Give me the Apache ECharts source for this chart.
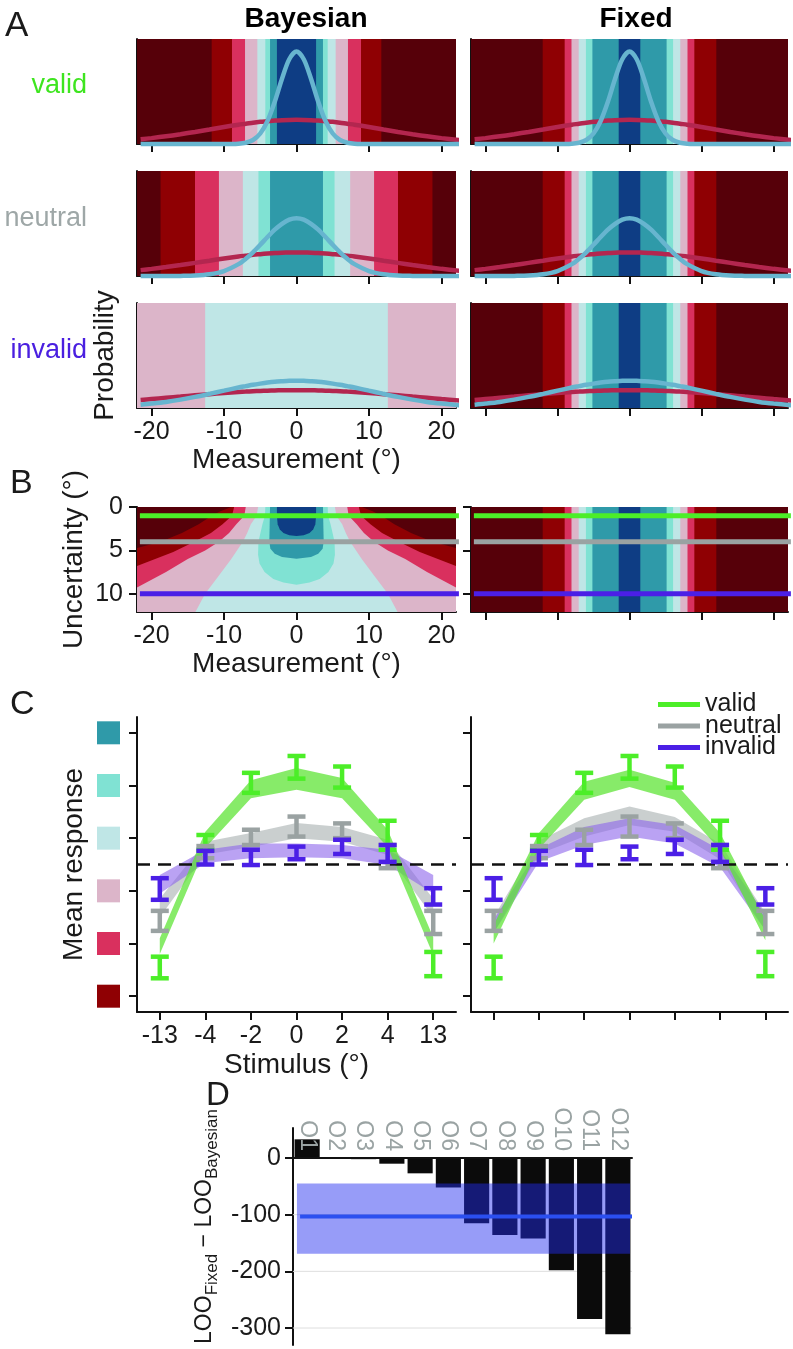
<!DOCTYPE html>
<html><head><meta charset="utf-8">
<script src="https://cdn.jsdelivr.net/npm/echarts@6/dist/echarts.min.js"></script>
<style>html,body{margin:0;padding:0;background:#fff}#c{width:793px;height:1349px}</style>
</head><body><div id="c"></div>
<script>
// ================= DATA =================
// Panel A: measurement grid and probability curves (relative heights)
const measX = [-21.5,-20,-18,-16,-14,-12,-10,-8,-7,-6,-5,-4,-3,-2,-1,0,1,2,3,4,5,6,7,8,10,12,14,16,18,20,22.5];
const validBlue   = [0,0,0,0,0,0,0,0.003,0.012,0.038,0.10,0.219,0.402,0.621,0.807,0.88,0.807,0.621,0.402,0.219,0.10,0.038,0.012,0.003,0,0,0,0,0,0,0];
const validRed    = [0.045,0.056,0.073,0.093,0.115,0.138,0.162,0.184,0.193,0.203,0.211,0.217,0.223,0.227,0.229,0.23,0.229,0.227,0.223,0.217,0.211,0.203,0.193,0.184,0.162,0.138,0.115,0.093,0.073,0.056,0.038];
const neutralBlue = [0,0,0,0.001,0.004,0.016,0.047,0.113,0.164,0.226,0.297,0.371,0.441,0.497,0.537,0.55,0.537,0.497,0.441,0.371,0.297,0.226,0.164,0.113,0.047,0.016,0.004,0.001,0,0,0];
const neutralRed  = [0.056,0.068,0.085,0.104,0.125,0.146,0.167,0.186,0.194,0.202,0.208,0.214,0.219,0.222,0.224,0.225,0.224,0.222,0.219,0.214,0.208,0.202,0.194,0.186,0.167,0.146,0.125,0.104,0.085,0.068,0.049];
const invalidBlue = [0.032,0.042,0.058,0.080,0.106,0.135,0.165,0.195,0.208,0.221,0.232,0.242,0.250,0.255,0.259,0.26,0.259,0.255,0.250,0.242,0.232,0.221,0.208,0.195,0.165,0.135,0.106,0.080,0.058,0.042,0.026];
const invalidRed  = [0.076,0.085,0.097,0.109,0.121,0.132,0.143,0.152,0.156,0.160,0.163,0.165,0.167,0.169,0.170,0.17,0.170,0.169,0.167,0.165,0.163,0.160,0.156,0.152,0.143,0.132,0.121,0.109,0.097,0.085,0.071];
const measTicks = [-20,-10,0,10,20];

// Decision-region half-widths (red, pink-red, light pink, light cyan, mint, teal, navy); outside = maroon
const bayesValidBounds   = [11.7, 8.9, 7.1, 5.4, 4.3, 3.65, 2.7];
const bayesNeutralBounds = [18.75, 14.0, 10.7, 7.4, 5.25, 3.65, 0];
const bayesInvalidBounds = [30, 30, 30, 12.6, 0, 0, 0];
const fixedBounds        = [12.05, 9.0, 8.05, 7.05, 6.05, 5.15, 1.5];

// Panel B: Bayesian region boundaries [|measurement|, uncertainty]
const maroonB = [[40,-1],[40,13]];
const redB  = [[9.0,0],[10.5,0.5],[11.7,1],[13.5,2],[15.8,3],[18.75,4],[22.3,4.8],[26,5.5],[40,12.5]];
const prB   = [[8.6,0],[8.9,1],[10.2,2],[11.8,3],[14.1,4],[17,5.2],[22.3,6.9],[26,8],[40,12.5]];
const lpB   = [[7.0,0],[7.2,1],[8.3,2],[9.3,3],[10.7,4],[12.6,5],[15,6],[18,7.5],[22.3,9.4],[25,10.5],[40,12.5]];
const lcB   = [[5.3,0],[5.5,1],[6.3,2],[6.8,3],[7.4,4],[9.0,6],[10.8,8],[12.6,10],[14.2,12.5]];
const mintB = [[4.3,0],[4.35,1],[4.7,2],[5.25,4],[5.3,5.5],[5.1,6.5],[4.4,7.5],[3.2,8.3],[1.8,8.7],[0,8.95]];
const tealB = [[3.65,0],[3.7,2],[3.75,4],[3.6,4.8],[3.0,5.4],[2.0,5.75],[0,5.95]];
const navyB = [[2.7,0],[2.7,1],[2.6,2],[2.3,2.6],[1.8,3.0],[1.0,3.25],[0,3.35]];
const uncTicks = [0,5,10];
const cueLevels = [1, 4, 10];   // valid, neutral, invalid uncertainty lines
const cueLineX = [-21.6, 22.4];

// Panel C
const stimCats = ['-13','-4','-2','0','2','4','13'];
const respTicks = [1,2,3,4,5,6];
const validLo   = [1.34,3.78,4.86,5.13,4.96,3.78,1.38];
const validHi   = [1.75,4.06,5.24,5.56,5.36,4.33,1.84];
const neutralLo = [2.24,3.62,3.87,4.03,4.00,3.43,2.18];
const neutralHi = [2.62,3.85,4.16,4.41,4.28,3.87,2.62];
const invalidLo = [2.83,3.50,3.49,3.60,3.70,3.55,2.74];
const invalidHi = [3.24,3.76,3.78,3.84,3.97,3.87,3.05];
const bayValidLo   = [1.80,3.82,4.76,4.92,4.76,3.83,1.78];
const bayValidHi   = [2.10,4.12,5.10,5.33,5.14,4.16,2.12];
const bayNeutralLo = [2.50,3.69,3.83,4.00,3.93,3.68,2.50];
const bayNeutralHi = [2.85,3.93,4.10,4.29,4.21,3.97,2.85];
const bayInvalidLo = [2.95,3.53,3.62,3.64,3.62,3.49,2.95];
const bayInvalidHi = [3.30,3.78,3.90,3.90,3.87,3.78,3.30];
const fixValidLo   = [2.00,3.80,4.73,4.97,4.73,3.78,2.06];
const fixValidHi   = [2.35,4.10,5.07,5.30,5.05,4.10,2.45];
const fixNeutralLo = [2.20,3.70,4.03,4.25,4.12,3.60,2.25];
const fixNeutralHi = [2.50,3.95,4.38,4.60,4.40,3.90,2.58];
const fixInvalidLo = [2.20,3.55,3.87,4.03,3.90,3.45,2.25];
const fixInvalidHi = [2.45,3.80,4.21,4.38,4.25,3.78,2.55];
const chanceLevel = 3.5;

// Panel D
const subjects = ['O1','O2','O3','O4','O5','O6','O7','O8','O9','O10','O11','O12'];
const looDiff  = [33,-1,-2,-10,-27,-52,-115,-136,-142,-198,-284,-311];
const looMean = -103, looBandLo = -169, looBandHi = -45;
const looTicks = [-300,-200,-100,0];

// ================= STYLE =================
const FONT = '"Liberation Sans", Arial, Helvetica, sans-serif';
const AXC = '#111';
const TXT = '#1a1a1a';
const CLS = ['#560009','#8f0003','#d9305e','#dcb5c9','#bfe6e6','#80e2d3','#2f9aa9','#0e3d84'];
const RESP_COLORS = ['#8f0003','#d9305e','#dcb5c9','#bfe6e6','#80e2d3','#2f9aa9'];
const C_VALID = '#4cee28', C_NEUTRAL = '#9aa2a2', C_INVALID = '#4b1fe6';
const BLUE_CURVE = '#67b5cf', RED_CURVE = '#b3264f';

const grids = [
  [137,39,319,105],[471,39,317,105],
  [137,171,319,105],[471,171,317,105],
  [137,303,319,105],[471,303,317,105],
  [137,507,319,105],[471,507,317,105],
  [137,717,319,295],[471,717,317,295],
  [293,1128,339,217]
].map(g => ({left:g[0], top:g[1], width:g[2], height:g[3]}));

const axLine = {show:true, onZero:false, lineStyle:{color:AXC, width:2}};
const tickSt = {color:AXC, width:2};
const nameSt = {fontSize:28, color:TXT, fontFamily:FONT};

function measXAxis(gi, labels, name) {
  return {type:'value', gridIndex:gi, min:-22, max:22, axisLine:axLine,
    axisTick:{show:true, customValues:measTicks, length:8, lineStyle:tickSt},
    axisLabel:{show:labels, customValues:measTicks, fontSize:25, color:TXT, margin:12, fontFamily:FONT},
    splitLine:{show:false}, name:name||'', nameLocation:'middle', nameGap:38, nameTextStyle:nameSt};
}
function probYAxis(gi, name) {
  return {type:'value', gridIndex:gi, min:0, max:1, axisLine:axLine, axisTick:{show:false},
    axisLabel:{show:false}, splitLine:{show:false}, name:name||'', nameLocation:'middle',
    nameRotate:90, nameGap:18, nameTextStyle:nameSt};
}
function uncYAxis(gi, labels, name) {
  return {type:'value', gridIndex:gi, min:0, max:12.1, inverse:true, axisLine:axLine,
    axisTick:{show:true, customValues:uncTicks, length:8, lineStyle:tickSt},
    axisLabel:{show:labels, customValues:uncTicks, fontSize:25, color:TXT, margin:14, fontFamily:FONT},
    splitLine:{show:false}, name:name||'', nameLocation:'middle', nameRotate:90, nameGap:49, nameTextStyle:nameSt};
}
function stimXAxis(gi, labels, name) {
  return {type:'category', gridIndex:gi, data:stimCats, boundaryGap:true, axisLine:axLine,
    axisTick:{show:true, alignWithLabel:true, interval:0, length:8, lineStyle:tickSt},
    axisLabel:{show:labels, interval:0, fontSize:25, color:TXT, margin:12, fontFamily:FONT},
    splitLine:{show:false}, name:name||'', nameLocation:'middle', nameGap:39, nameTextStyle:nameSt};
}
const richSquares = {};
RESP_COLORS.forEach((c,i) => { richSquares['c'+(i+1)] = {width:23, height:23, backgroundColor:c}; });
function respYAxis(gi, labels, name) {
  return {type:'value', gridIndex:gi, min:0.7, max:6.3, axisLine:axLine,
    axisTick:{show:true, customValues:respTicks, length:8, lineStyle:tickSt},
    axisLabel:{show:labels, customValues:respTicks, margin:17, formatter:v => '{c'+v+'|}', rich:richSquares},
    splitLine:{show:false}, name:name||'', nameLocation:'middle', nameRotate:90, nameGap:49, nameTextStyle:nameSt};
}

const xAxes = [
  measXAxis(0,false), measXAxis(1,false), measXAxis(2,false), measXAxis(3,false),
  measXAxis(4,true,'Measurement (°)'), measXAxis(5,false),
  measXAxis(6,true,'Measurement (°)'), measXAxis(7,false),
  stimXAxis(8,true,'Stimulus (°)'), stimXAxis(9,false),
  {type:'category', gridIndex:10, data:subjects, z:10, position:'top', offset:-30,
    axisLine:{show:true, onZero:false, lineStyle:{color:AXC, width:2}}, axisTick:{show:false},
    axisLabel:{interval:0, rotate:90, color:'#9aa3a3', fontSize:23, margin:7, fontFamily:FONT},
    splitLine:{show:false}},
  {type:'value', gridIndex:10, min:0, max:12, show:false, position:'bottom'}
];
const yAxes = [
  probYAxis(0), probYAxis(1), probYAxis(2), probYAxis(3), probYAxis(4,'Probability'), probYAxis(5),
  uncYAxis(6,true,'Uncertainty (°)'), uncYAxis(7,false),
  respYAxis(8,true,'Mean response'), respYAxis(9,false),
  {type:'value', gridIndex:10, min:-330, max:53, axisLine:axLine,
    axisTick:{show:true, customValues:looTicks, length:8, lineStyle:tickSt},
    axisLabel:{customValues:looTicks, fontSize:25, color:TXT, margin:12, fontFamily:FONT},
    splitLine:{show:false},
    name:'{a|LOO}{s|Fixed}{a| − LOO}{s|Bayesian}', nameLocation:'middle', nameRotate:90, nameGap:72,
    nameTextStyle:{color:TXT, fontFamily:FONT, padding:[0,0,0,20], rich:{
      a:{fontSize:23, lineHeight:32, verticalAlign:'middle', color:TXT, fontFamily:FONT},
      s:{fontSize:17, lineHeight:12, verticalAlign:'bottom', color:TXT, fontFamily:FONT}}}}
];

// ================= RENDER HELPERS =================
function clipRect(cs) { return {type:'rect', shape:{x:cs.x, y:cs.y, width:cs.width, height:cs.height}}; }
function renderBand(params, api) {
  const cs = params.coordSys;
  const b = api.value(0), k = api.value(1);
  let x0 = Math.max(api.coord([-b, 0])[0], cs.x);
  let x1 = Math.min(api.coord([b, 0])[0], cs.x + cs.width);
  return {type:'rect', shape:{x:x0, y:cs.y, width:x1-x0, height:cs.height}, style:{fill:CLS[k]}};
}
function bandData(bounds) {
  const d = [[99,0]];
  bounds.forEach((b,i) => { if (b > 0) d.push([b, i+1]); });
  return d;
}
function bandSeries(gi, bounds) {
  return {type:'custom', xAxisIndex:gi, yAxisIndex:gi, data:bandData(bounds), renderItem:renderBand, silent:true, z:1};
}
const regionsB = [maroonB, redB, prB, lpB, lcB, mintB, tealB, navyB];
function renderRegion(params, api) {
  const k = api.value(0);
  const pts = regionsB[k];
  const right = pts.map(p => api.coord([p[0], p[1]]));
  const left = pts.slice().reverse().map(p => api.coord([-p[0], p[1]]));
  return {type:'polygon', shape:{points:right.concat(left)}, style:{fill:CLS[k]}, clipPath:clipRect(params.coordSys)};
}
function curve(gi, ys, color) {
  return {type:'line', xAxisIndex:gi, yAxisIndex:gi, data:measX.map((x,i)=>[x, ys[i]]), smooth:0.3,
    symbol:'none', lineStyle:{color:color, width:4.5}, silent:true, z:3, clip:false};
}
function cueLines(gi) {
  const cols = [C_VALID, C_NEUTRAL, C_INVALID];
  return cueLevels.map((lv,i) => ({type:'line', xAxisIndex:gi, yAxisIndex:gi,
    data:cueLineX.map(x => [x, lv]), symbol:'none', lineStyle:{color:cols[i], width:5}, silent:true, z:4, clip:false}));
}
function bandPair(gi, lo, hi, color, stack) {
  return [
    {type:'line', xAxisIndex:gi, yAxisIndex:gi, data:lo, stack:stack, symbol:'none', lineStyle:{opacity:0}, silent:true, z:2},
    {type:'line', xAxisIndex:gi, yAxisIndex:gi, data:hi.map((h,i)=>+(h-lo[i]).toFixed(3)), stack:stack, symbol:'none',
      lineStyle:{opacity:0}, areaStyle:{color:color, opacity:1}, silent:true, z:2}
  ];
}
function renderErr(params, api) {
  const i = api.value(0);
  const a = api.coord([i, api.value(1)]), b = api.coord([i, api.value(2)]);
  const hw = 9;
  const st = {stroke:api.visual('color'), lineWidth:4.5, fill:null};
  return {type:'group', children:[
    {type:'line', shape:{x1:a[0], y1:a[1], x2:b[0], y2:b[1]}, style:st},
    {type:'line', shape:{x1:a[0]-hw, y1:a[1], x2:a[0]+hw, y2:a[1]}, style:st},
    {type:'line', shape:{x1:b[0]-hw, y1:b[1], x2:b[0]+hw, y2:b[1]}, style:st}
  ]};
}
function errSeries(gi, name, lo, hi, color) {
  return {type:'custom', name:name, xAxisIndex:gi, yAxisIndex:gi, data:stimCats.map((c,i)=>[i, lo[i], hi[i]]),
    encode:{x:0, y:[1,2]}, renderItem:renderErr, itemStyle:{color:color}, silent:true, z:5};
}
function chanceLine(gi) {
  return {type:'line', xAxisIndex:gi, yAxisIndex:gi, data:stimCats.map(()=>null), symbol:'none', z:3, silent:true,
    markLine:{silent:true, symbol:'none', label:{show:false}, lineStyle:{color:'#111', type:[13,8], width:2.5},
      data:[{yAxis:chanceLevel}]}};
}

// ================= SERIES =================
const series = [];
const rowsA = [
  {blue:validBlue, red:validRed, bayes:bayesValidBounds},
  {blue:neutralBlue, red:neutralRed, bayes:bayesNeutralBounds},
  {blue:invalidBlue, red:invalidRed, bayes:bayesInvalidBounds}
];
rowsA.forEach((r, ri) => {
  const gB = ri*2, gF = ri*2+1;
  series.push(bandSeries(gB, r.bayes), curve(gB, r.red, RED_CURVE), curve(gB, r.blue, BLUE_CURVE));
  series.push(bandSeries(gF, fixedBounds), curve(gF, r.red, RED_CURVE), curve(gF, r.blue, BLUE_CURVE));
});
// Panel B
series.push({type:'custom', xAxisIndex:6, yAxisIndex:6, data:regionsB.map((r,i)=>[i]), renderItem:renderRegion, silent:true, z:1});
series.push(...cueLines(6));
series.push(bandSeries(7, fixedBounds));
series.push(...cueLines(7));
// Panel C
[[8, [bayValidLo,bayValidHi], [bayNeutralLo,bayNeutralHi], [bayInvalidLo,bayInvalidHi]],
 [9, [fixValidLo,fixValidHi], [fixNeutralLo,fixNeutralHi], [fixInvalidLo,fixInvalidHi]]].forEach(p => {
  const g = p[0];
  series.push(...bandPair(g, p[2][0], p[2][1], 'rgba(150,160,160,0.5)', 'n'+g));
  series.push(...bandPair(g, p[3][0], p[3][1], 'rgba(140,100,235,0.6)', 'i'+g));
  series.push(...bandPair(g, p[1][0], p[1][1], 'rgba(95,228,55,0.75)', 'v'+g));
  series.push(chanceLine(g));
  series.push(errSeries(g, 'valid', validLo, validHi, C_VALID));
  series.push(errSeries(g, 'neutral', neutralLo, neutralHi, C_NEUTRAL));
  series.push(errSeries(g, 'invalid', invalidLo, invalidHi, C_INVALID));
});
// Panel D
series.push({type:'custom', xAxisIndex:11, yAxisIndex:10, data:looTicks.map(v=>[v]), silent:true, z:1,
  renderItem:(params, api) => {
    const cs = params.coordSys; const y = api.coord([0, api.value(0)])[1];
    return {type:'line', shape:{x1:cs.x, y1:y, x2:cs.x+cs.width, y2:y}, style:{stroke:'#dedede', lineWidth:1}};
  }});
series.push({type:'bar', xAxisIndex:10, yAxisIndex:10, data:looDiff, barCategoryGap:'11%', itemStyle:{color:'#0b0b0b'}, silent:true, z:2});
series.push({type:'custom', xAxisIndex:11, yAxisIndex:10, data:[[0.14, 11.93, looBandLo, looBandHi]], silent:true, z:3,
  renderItem:(params, api) => {
    const p0 = api.coord([api.value(0), api.value(3)]), p1 = api.coord([api.value(1), api.value(2)]);
    return {type:'rect', shape:{x:p0[0], y:p0[1], width:p1[0]-p0[0], height:p1[1]-p0[1]}, style:{fill:'rgba(35,45,240,0.47)'}};
  }});
series.push({type:'line', xAxisIndex:11, yAxisIndex:10, data:[[0.25, looMean],[12, looMean]], symbol:'none',
  lineStyle:{color:'#2b4ff0', width:4}, silent:true, z:4});

// ================= TEXT =================
function txt(x, y, text, opt) {
  return Object.assign({type:'text', x:x, y:y, silent:true, z:20,
    style:Object.assign({text:text, fontFamily:FONT, fontSize:27, fill:TXT, align:'left', verticalAlign:'middle'}, opt||{})});
}
const graphic = [
  txt(5, 26, 'A', {fontSize:35}),
  txt(10, 484, 'B', {fontSize:34}),
  txt(10, 705, 'C', {fontSize:34}),
  txt(206, 1096, 'D', {fontSize:33}),
  txt(306, 19, 'Bayesian', {fontSize:28, fontWeight:'bold', align:'center', fill:'#000'}),
  txt(636, 19, 'Fixed', {fontSize:28, fontWeight:'bold', align:'center', fill:'#000'}),
  txt(87, 86, 'valid', {align:'right', fill:'#3ee51f'}),
  txt(87, 219, 'neutral', {align:'right', fill:'#9ea7a7'}),
  txt(87, 351, 'invalid', {align:'right', fill:'#4a1fe0'})
];

const option = {
  animation:false,
  textStyle:{fontFamily:FONT},
  grid:grids, xAxis:xAxes, yAxis:yAxes,
  legend:{data:['valid','neutral','invalid'], orient:'vertical', left:658, top:692, padding:0, icon:'rect',
    itemWidth:42, itemHeight:5, itemGap:-3.5, selectedMode:false,
    textStyle:{fontSize:25, color:TXT, lineHeight:20, fontFamily:FONT}},
  graphic:graphic,
  series:series
};
const chart = echarts.init(document.getElementById('c'), null, {renderer:'canvas'});
chart.setOption(option);
</script>
</body></html>
